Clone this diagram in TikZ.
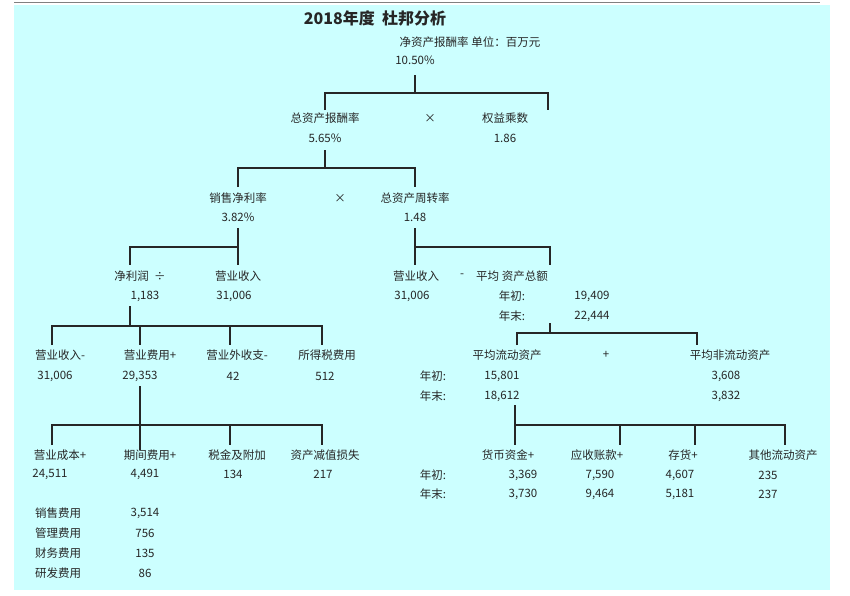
\documentclass[tikz,border=0pt]{standalone}
\usepackage{fontspec}
\setmainfont{Liberation Serif}
\newfontfamily\cjk{Noto Sans CJK SC}
\definecolor{bgc}{RGB}{204,255,255}
\begin{document}
\begin{tikzpicture}[x=1pt,y=-1pt,
  t/.style={inner sep=0pt,font=\cjk\fontsize{11.5}{12}\selectfont,text=black!85},
  ln/.style={draw=black!85,line width=1.1pt}]
\useasboundingbox (0,0) rectangle (850,595);
\fill[bgc] (14,5) rectangle (830,590);
\draw[gray,line width=0.8pt] (14,2) -- (820,2);
\node[t,font=\cjk\bfseries\fontsize{16}{17}\selectfont] (title) at (375,18) {2018年度\ \ 杜邦分析};
\node[t] (roe) at (470,42) {净资产报酬率\ 单位：百万元};
\node[t] (roev) at (415,60) {10.50\%};
\node[t] (roa) at (325,118) {总资产报酬率};
\node[t] (roav) at (325,138) {5.65\%};
\node[t] (x1) at (430,118) {×};
\node[t] (em) at (505,118) {权益乘数};
\node[t] (emv) at (505,138) {1.86};
\node[t] (npm) at (238,198) {销售净利率};
\node[t] (npmv) at (238,217) {3.82\%};
\node[t] (x2) at (340,198) {×};
\node[t] (tat) at (415,198) {总资产周转率};
\node[t] (tatv) at (415,217) {1.48};
\node[t] (np) at (140,276) {净利润\ \ ÷};
\node[t] (npv) at (145,296) {1,183};
\node[t] (rev) at (238,276) {营业收入};
\node[t] (revv) at (234,296) {31,006};
\node[t] (rev2) at (416,276) {营业收入};
\node[t] (rev2v) at (412,296) {31,006};
\node[t] (minus) at (462,276) {-};
\node[t] (ta) at (512,276) {平均 资产总额};
\node[t] (ta1) at (512,296) {年初:};
\node[t] (ta1v) at (592,296) {19,409};
\node[t] (ta2) at (512,316) {年末:};
\node[t] (ta2v) at (592,316) {22,444};
\node[t] (a1) at (60,355) {营业收入-};
\node[t] (a1v) at (55,376) {31,006};
\node[t] (a2) at (150,355) {营业费用+};
\node[t] (a2v) at (140,376) {29,353};
\node[t] (a3) at (237,355) {营业外收支-};
\node[t] (a3v) at (233,376) {42};
\node[t] (a4) at (327,355) {所得税费用};
\node[t] (a4v) at (325,376) {512};
\node[t] (b1) at (60,455) {营业成本+};
\node[t] (b1v) at (50,474) {24,511};
\node[t] (b2) at (150,455) {期间费用+};
\node[t] (b2v) at (145,474) {4,491};
\node[t] (b3) at (237,455) {税金及附加};
\node[t] (b3v) at (233,474) {134};
\node[t] (b4) at (325,455) {资产减值损失};
\node[t] (b4v) at (323,474) {217};
\node[t] (c1) at (58,513) {销售费用};
\node[t] (c1v) at (145,513) {3,514};
\node[t] (c2) at (58,533) {管理费用};
\node[t] (c2v) at (145,533) {756};
\node[t] (c3) at (58,553) {财务费用};
\node[t] (c3v) at (145,553) {135};
\node[t] (c4) at (58,573) {研发费用};
\node[t] (c4v) at (145,573) {86};
\node[t] (ca) at (507,355) {平均流动资产};
\node[t] (plus) at (606,355) {+};
\node[t] (nca) at (730,355) {平均非流动资产};
\node[t] (ca1) at (433,376) {年初:};
\node[t] (ca1v) at (502,376) {15,801};
\node[t] (nca1v) at (726,376) {3,608};
\node[t] (ca2) at (433,396) {年末:};
\node[t] (ca2v) at (502,396) {18,612};
\node[t] (nca2v) at (726,396) {3,832};
\node[t] (d1) at (508,455) {货币资金+};
\node[t] (d2) at (597,455) {应收账款+};
\node[t] (d3) at (683,455) {存货+};
\node[t] (d4) at (783,455) {其他流动资产};
\node[t] (e1) at (433,475) {年初:};
\node[t] (e2) at (433,494) {年末:};
\node[t] (d1a) at (523,475) {3,369};
\node[t] (d1b) at (523,494) {3,730};
\node[t] (d2a) at (600,475) {7,590};
\node[t] (d2b) at (600,494) {9,464};
\node[t] (d3a) at (680,475) {4,607};
\node[t] (d3b) at (680,494) {5,181};
\node[t] (d4a) at (768,475) {235};
\node[t] (d4b) at (768,494) {237};
\draw[ln] (415,75) -- (415,93);
\draw[ln] (325,110) -- (325,93) -- (548,93) -- (548,110);
\draw[ln] (325,150) -- (325,168);
\draw[ln] (238,187) -- (238,168) -- (415,168) -- (415,187);
\draw[ln] (238,228) -- (238,265);
\draw[ln] (238,247) -- (130,247) -- (130,265);
\draw[ln] (415,228) -- (415,265);
\draw[ln] (415,247) -- (550,247) -- (550,265);
\draw[ln] (130,306) -- (130,326);
\draw[ln] (52,345) -- (52,326) -- (322,326) -- (322,345);
\draw[ln] (140,326) -- (140,345);
\draw[ln] (230,326) -- (230,345);
\draw[ln] (140,386) -- (140,450);
\draw[ln] (52,445) -- (52,425) -- (322,425) -- (322,445);
\draw[ln] (230,425) -- (230,445);
\draw[ln] (550,323) -- (550,333);
\draw[ln] (517,345) -- (517,333) -- (697,333) -- (697,345);
\draw[ln] (515,405) -- (515,445);
\draw[ln] (515,425) -- (785,425) -- (785,445);
\draw[ln] (620,425) -- (620,445);
\draw[ln] (695,425) -- (695,445);
\end{tikzpicture}
\end{document}
